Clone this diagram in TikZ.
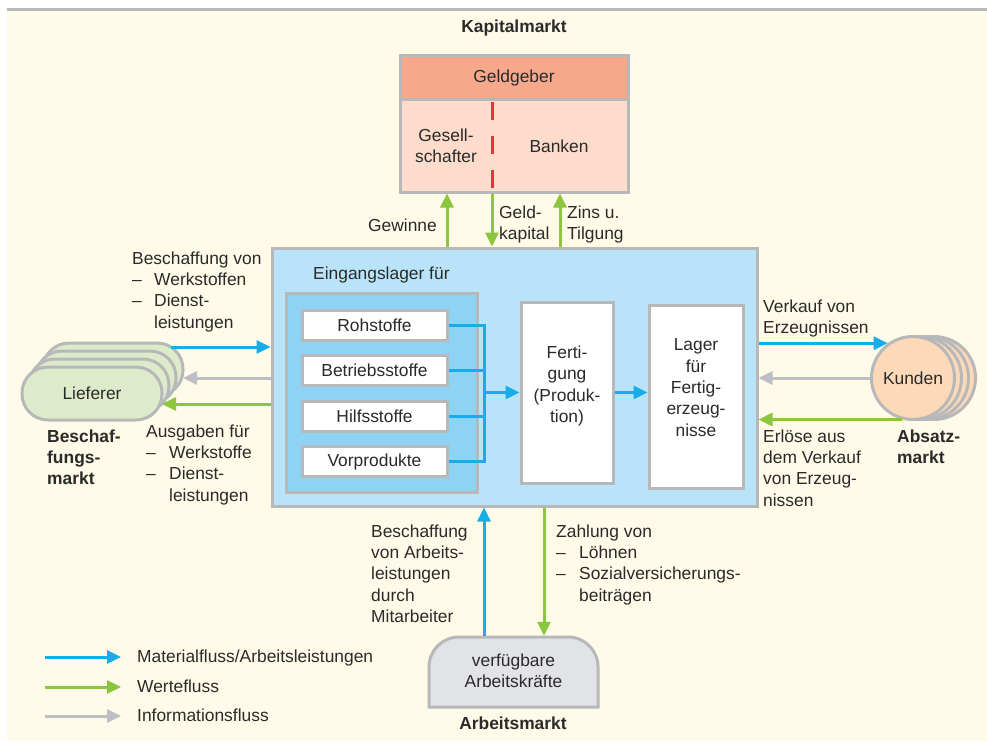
\documentclass[tikz,border=0pt]{standalone}
\usepackage{fontspec}
\setmainfont{Liberation Sans}
\usetikzlibrary{arrows.meta}
\definecolor{bgc}{HTML}{FFFBE8}
\definecolor{bord}{HTML}{B7B8BA}
\definecolor{txtc}{HTML}{2A2A2A}
\definecolor{bluec}{HTML}{17ADE8}
\definecolor{greenc}{HTML}{8CC63F}
\definecolor{grayc}{HTML}{BDBFC4}
\definecolor{salmonc}{HTML}{F7A88A}
\definecolor{pinkc}{HTML}{FDDCCB}
\definecolor{mainblue}{HTML}{B9E3F8}
\definecolor{innerblue}{HTML}{8DD4F4}
\definecolor{liefc}{HTML}{DEEBCB}
\definecolor{kundc}{HTML}{FDD9B8}
\definecolor{arbc}{HTML}{E2E3E7}
\definecolor{redc}{HTML}{E5323C}
\newcommand\lf{\fontsize{17.4}{21.3}\selectfont}
\newcommand\dsh[1]{\makebox[#1][l]{–}}
\begin{document}
\begin{tikzpicture}[x=1pt,y=-1pt,
  every node/.style={font=\lf, text=txtc},
  box/.style={draw=bord, line width=3pt, inner sep=0pt},
  arr/.style={line width=3pt, -{Triangle[length=14pt,width=13pt]}},
  barr/.style={arr, draw=bluec},
  garr/.style={arr, draw=greenc},
  iarr/.style={arr, draw=grayc},
  bline/.style={draw=bluec, line width=3pt},
  lbl/.style={anchor=north west, inner sep=0pt, align=left},
  ctr/.style={inner sep=0pt, align=center},
  bold/.style={font=\lf\bfseries},
  wbox/.style={box, fill=white, minimum width=145pt, minimum height=30pt},
  lief/.style={box, fill=liefc, minimum width=140pt, minimum height=53pt, rounded corners=26pt},
  kund/.style={box, circle, fill=kundc, minimum size=83pt}]
\useasboundingbox (0,0) rectangle (987,741);
\fill[bgc] (7,8) rectangle (987,741);
\draw[bord, line width=3.5pt] (7,9.5) -- (987,9.5);

% Kapitalmarkt
\node[bold] (kap) at (514,28) {Kapitalmarkt};
\fill[salmonc] (400,56) rectangle (628,100);
\fill[pinkc] (400,100) rectangle (628,192);
\draw[bord, line width=3pt] (400,100) -- (628,100);
\node[box, minimum width=228pt, minimum height=136pt] (geld) at (514,124) {};
\node (gg) at (514,78) {Geldgeber};
\draw[redc, line width=3pt, dash pattern=on 18pt off 16pt] (492,102) -- (492,192);
\node[ctr] (ges) at (446,146) {Gesell-\\schafter};
\node (ban) at (559,146) {Banken};

% main box
\node[box, fill=mainblue, minimum width=485pt, minimum height=258pt] (main) at (514.5,377) {};
\node[anchor=base west, inner sep=0pt] (eing) at (313,279) {Eingangslager für};
\node[box, fill=innerblue, minimum width=191pt, minimum height=199pt] (inner) at (381.5,392.5) {};
\node[wbox] (roh) at (374.5,325) {Rohstoffe};
\node[wbox] (bet) at (374.5,370.5) {Betriebsstoffe};
\node[wbox] (hil) at (374.5,416) {Hilfsstoffe};
\node[wbox] (vor) at (374.5,461.5) {Vorprodukte};
\node[box, fill=white, minimum width=92pt, minimum height=181pt] (fert) at (567,392.5) {};
\node[ctr] (fertt) at (567,386) {Ferti-\\gung\\(Produk-\\tion)};
\node[box, fill=white, minimum width=94pt, minimum height=183pt] (lag) at (696,396.5) {};
\node[ctr] (lagt) at (696,387.5) {Lager\\für\\Fertig-\\erzeug-\\nisse};

\coordinate (xj) at (484,0);
\draw[bline] (roh.east) -- (roh.east -| xj) -- (vor.east -| xj) -- (vor.east);
\draw[bline] (bet.east) -- (bet.east -| xj);
\draw[bline] (hil.east) -- (hil.east -| xj);
\draw[barr] (fert.west -| xj) -- (fert.west);
\draw[barr] (fert.east) -- (fert.east -| lag.west);

% top arrows
\coordinate (xg) at (447,0);
\coordinate (xk) at (492,0);
\coordinate (xz) at (560,0);
\draw[garr] (main.north -| xg) -- (geld.south -| xg);
\draw[garr] (geld.south -| xk) -- (main.north -| xk);
\draw[garr] (main.north -| xz) -- (geld.south -| xz);
\node[anchor=base east, inner sep=0pt] (gew) at (437,231) {Gewinne};
\node[lbl] (gk) at (499,203) {\strut Geld-\\kapital};
\node[lbl] (zt) at (567,203) {\strut Zins u.\\Tilgung};

% Lieferer
\node[lief] (l3) at (113,369.5) {};
\node[lief] (l2) at (106,377.5) {};
\node[lief] (l1) at (99,385.5) {};
\node[lief] (lief) at (92,393.5) {Lieferer};
\coordinate (lb) at (171,347);
\coordinate (li) at (183,378);
\coordinate (lg) at (162,404);
\draw[barr] (lb) -- (main.west |- lb);
\draw[iarr] (main.west |- li) -- (li);
\draw[garr] (main.west |- lg) -- (lg);
\node[lbl] (besch) at (132,249) {\strut Beschaffung von\\\dsh{22pt}Werkstoffen\\\dsh{22pt}Dienst-\\\hspace*{22pt}leistungen};
\node[lbl] (ausg) at (146,422) {\strut Ausgaben für\\\dsh{23pt}Werkstoffe\\\dsh{23pt}Dienst-\\\hspace*{23pt}leistungen};
\node[lbl, bold] (bm) at (47,427) {\strut Beschaf-\\fungs-\\markt};

% Kunden
\node[kund] (k3) at (934,378) {};
\node[kund] (k2) at (927,378) {};
\node[kund] (k1) at (920,378) {};
\node[kund] (kun) at (913,378) {Kunden};
\draw[barr] (main.east |- kun.126) -- (kun.126);
\draw[iarr] (kun.west) -- (main.east |- kun.west);
\draw[garr] (kun.255) -- (main.east |- kun.255);
\node[lbl] (verk) at (763,297) {\strut Verkauf von\\Erzeugnissen};
\node[lbl] (erl) at (763,427) {\strut Erlöse aus\\dem Verkauf\\von Erzeug-\\nissen};
\node[lbl, bold] (abm) at (897,427) {\strut Absatz-\\markt};

% Arbeitsmarkt
\filldraw[fill=arbc, draw=bord, line width=3pt] (429,707) -- (429,667) .. controls (429,650.4) and (442.4,637) .. (459,637) -- (568,637) .. controls (584.6,637) and (598,650.4) .. (598,667) -- (598,707) -- cycle;
\node[ctr, minimum width=169pt, minimum height=70pt] (ark) at (513.5,671) {verfügbare\\Arbeitskräfte};
\coordinate (xb) at (484,0);
\coordinate (xw) at (544,0);
\draw[barr] (ark.north -| xb) -- (main.south -| xb);
\draw[garr] (main.south -| xw) -- (ark.north -| xw);
\node[lbl] (bal) at (371,522) {\strut Beschaffung\\von Arbeits-\\leistungen\\durch\\Mitarbeiter};
\node[lbl] (zahl) at (556,522) {\strut Zahlung von\\\dsh{23pt}Löhnen\\\dsh{23pt}Sozialversicherungs-\\\hspace*{23pt}beiträgen};
\node[bold] (am) at (513,723) {Arbeitsmarkt};

% legend
\coordinate (lga) at (45,657);
\coordinate (lgb) at (121,657);
\coordinate (lgc) at (45,687);
\coordinate (lgd) at (121,687);
\coordinate (lge) at (45,716);
\coordinate (lgf) at (121,716);
\draw[barr] (lga) -- (lgb);
\draw[garr] (lgc) -- (lgd);
\draw[iarr] (lge) -- (lgf);
\node[anchor=base west, inner sep=0pt] (lt1) at (137,662) {Materialfluss/Arbeitsleistungen};
\node[anchor=base west, inner sep=0pt] (lt2) at (137,692) {Wertefluss};
\node[anchor=base west, inner sep=0pt] (lt3) at (137,721) {Informationsfluss};
\end{tikzpicture}
\end{document}
